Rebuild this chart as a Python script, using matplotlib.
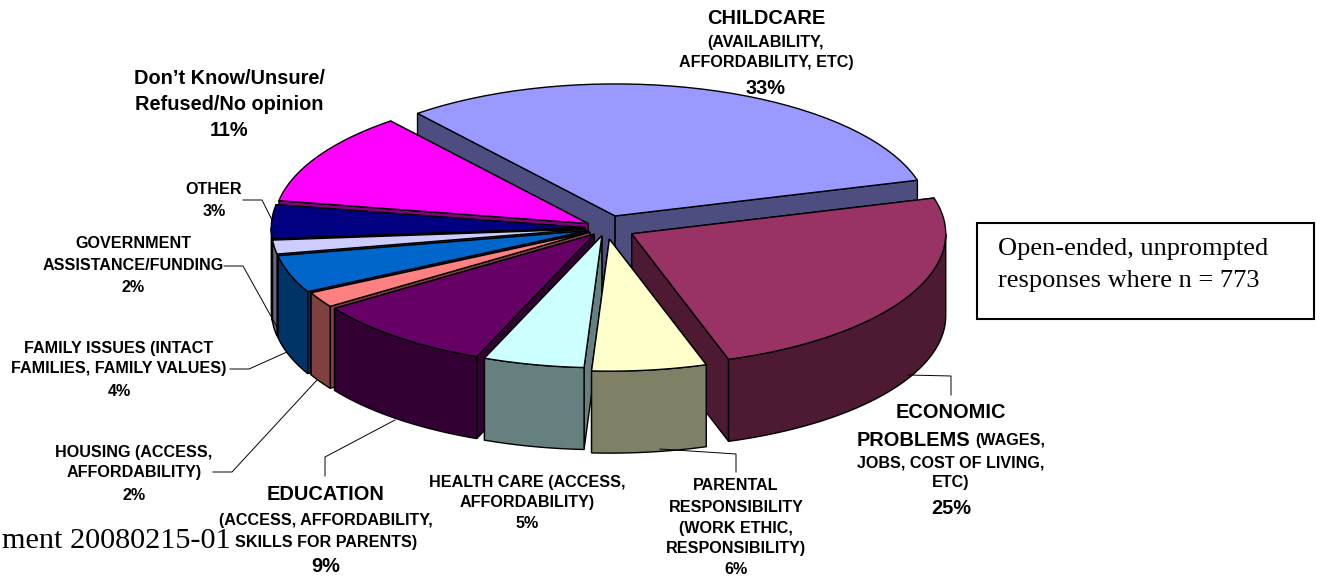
import numpy as np
import matplotlib
matplotlib.use('Agg')
import matplotlib.pyplot as plt

# share of the circle each slice really takes up
categories = ['Childcare', 'Economic', 'Parental', 'Health care', 'Education',
              'Housing', 'Family', 'Government', 'Other', 'Unsure']
shares = [31.5, 24.4, 5.9, 5.2, 9.4, 1.9, 4.6, 1.7, 4.1, 11.4]
explode = [0.096, 0.093, 0.085, 0.06, 0.06, 0.06, 0.066, 0.066, 0.066, 0.066]
colors = ['#9999FF', '#993366', '#FFFFCC', '#CCFFFF', '#660066',
          '#FF8080', '#0066CC', '#CCCCFF', '#000080', '#FF00FF']
wall_colors = ['#4D4D80', '#4D1933', '#808066', '#668080', '#330033',
               '#804040', '#003366', '#666680', '#000040', '#800080']
draw_order = [0, 9, 8, 7, 6, 5, 4, 1, 3, 2]

start_angle = 129.0
center = (606, 228)
rx, ry = 314, 132
depth = 82

BIG = 14.4
SMALL = 11.6

# labels: centre x, then (text, size, centre y) for every line
labels = [
    (766, [('CHILDCARE', BIG, 18), ('(AVAILABILITY,', SMALL, 42),
           ('AFFORDABILITY, ETC)', SMALL, 63), ('33%', BIG, 88)]),
    (229, [('Don\u2019t Know/Unsure/', BIG, 79), ('Refused/No opinion', BIG, 104), ('11%', BIG, 131)]),
    (214, [('OTHER', SMALL, 189), ('3%', SMALL, 211)]),
    (133, [('GOVERNMENT', SMALL, 244), ('ASSISTANCE/FUNDING', SMALL, 266), ('2%', SMALL, 288)]),
    (119, [('FAMILY ISSUES (INTACT', SMALL, 348), ('FAMILIES, FAMILY VALUES)', SMALL, 369), ('4%', SMALL, 391)]),
    (134, [('HOUSING (ACCESS,', SMALL, 452), ('AFFORDABILITY)', SMALL, 473), ('2%', SMALL, 495)]),
    (326, [('EDUCATION', BIG, 494), ('(ACCESS, AFFORDABILITY,', SMALL, 520),
           ('SKILLS FOR PARENTS)', SMALL, 543), ('9%', BIG, 567)]),
    (527, [('HEALTH CARE (ACCESS,', SMALL, 482), ('AFFORDABILITY)', SMALL, 503), ('5%', SMALL, 524)]),
    (736, [('PARENTAL', SMALL, 485), ('RESPONSIBILITY', SMALL, 507), ('(WORK ETHIC,', SMALL, 528),
           ('RESPONSIBILITY)', SMALL, 549), ('6%', SMALL, 570)]),
    (951, [('ECONOMIC', BIG, 413), ('JOBS, COST OF LIVING,', SMALL, 463), ('ETC)', SMALL, 483), ('25%', BIG, 508)]),
]

leaders = [
    ([243, 262, 272], [200, 200, 220]),
    ([224, 243, 277], [266, 266, 327]),
    ([230, 249, 287], [369, 369, 352]),
    ([213, 232, 317], [472, 472, 380]),
    ([325, 325, 395], [476, 457, 420]),
    ([908, 951, 951], [375, 376, 395]),
    ([660, 736, 736], [449, 454, 472]),
]


def ellipse_pts(cx, cy, a0, a1, n=40):
    t = np.radians(np.linspace(a0, a1, n))
    return cx + rx * np.cos(t), cy - ry * np.sin(t)


fig = plt.figure(figsize=(13.21, 5.77), dpi=100)
ax = fig.add_axes([0, 0, 1, 1])
ax.set_xlim(0, 1321)
ax.set_ylim(577, 0)
ax.axis('off')

# work out the angle range of every slice, going clockwise
sweeps = np.array(shares) / sum(shares) * 360
ends = start_angle - np.cumsum(sweeps)
starts = ends + sweeps

for i in draw_order:
    a1, a0 = starts[i], ends[i]
    mid = np.radians((a0 + a1) / 2)
    cx = center[0] + explode[i] * rx * np.cos(mid)
    cy = center[1] - explode[i] * ry * np.sin(mid)
    x, y = ellipse_pts(cx, cy, a1, a0)

    # the two cut faces, the one further back goes first so it gets hidden
    for k in sorted((0, -1), key=lambda k: y[k]):
        qx = [cx, x[k], x[k], cx]
        qy = [cy, y[k], y[k] + depth, cy + depth]
        ax.fill(qx, qy, fc=wall_colors[i], ec='black', lw=1.0, zorder=1)

    # outer rim only where it faces the viewer
    lo, hi = max(a0, -180), min(a1, 0)
    if hi > lo:
        rim_x, rim_y = ellipse_pts(cx, cy, hi, lo)
        ax.fill(np.r_[rim_x, rim_x[::-1]], np.r_[rim_y, rim_y[::-1] + depth],
                fc=wall_colors[i], ec='black', lw=1.0, zorder=1)

    ax.fill(np.r_[cx, x], np.r_[cy, y], fc=colors[i], ec='black', lw=1.0, zorder=1)

for lx, ly in leaders:
    ax.plot(lx, ly, color='black', lw=0.7, zorder=2)

font = 'Liberation Sans'
for x, lines in labels:
    for text, size, y in lines:
        ax.text(x, y, text, ha='center', va='center', fontsize=size, fontweight='bold',
                family=font, color='black', zorder=3)

# this line mixes two sizes
ax.text(857, 440, 'PROBLEMS', ha='left', va='center', fontsize=BIG, fontweight='bold', family=font, zorder=3)
ax.text(1045, 441, '(WAGES,', ha='right', va='center', fontsize=SMALL, fontweight='bold', family=font, zorder=3)

# note box
ax.add_patch(plt.Rectangle((977, 223), 337, 96, fc='white', ec='black', lw=1.5, zorder=2))
ax.text(998, 249, 'Open-ended, unprompted', fontsize=19, family='Liberation Serif', va='center', zorder=3)
ax.text(998, 281, 'responses where n = 773', fontsize=19, family='Liberation Serif', va='center', zorder=3)

ax.text(231, 541, 'ment 20080215-01', fontsize=21.8, family='Liberation Serif', ha='right', va='center', zorder=3)

plt.savefig('out.png', dpi=100)
